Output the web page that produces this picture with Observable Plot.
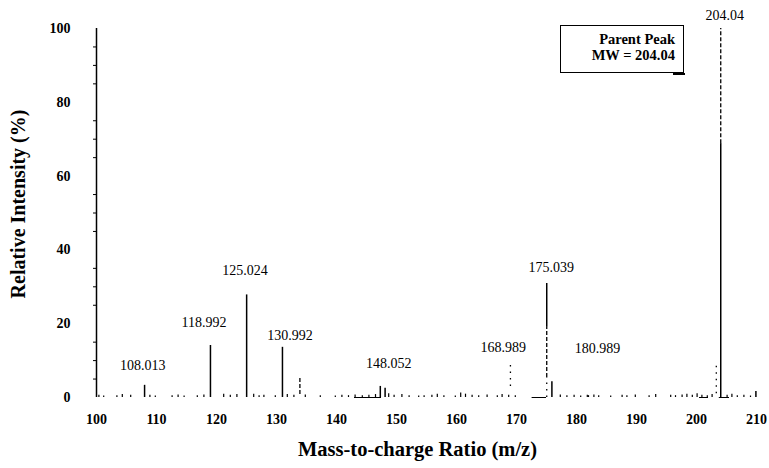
<!DOCTYPE html>
<html>
<head>
<meta charset="utf-8">
<script src="https://cdn.jsdelivr.net/npm/d3@7"></script>
<script src="https://cdn.jsdelivr.net/npm/@observablehq/plot@0.6"></script>
<style>
  html, body { margin: 0; padding: 0; background: #fff; }
  #wrap { position: relative; width: 769px; height: 468px; font-family: "Liberation Serif", "Times New Roman", serif; }
  #box { position: absolute; left: 560px; top: 25px; width: 124px; height: 48px; box-sizing: border-box;
         border: 1.5px solid #000; background: #fff; text-align: right; padding: 5px 8px 0 0;
         font-weight: bold; font-size: 14.5px; line-height: 16px; color: #000; }
  #box::after { content: ""; position: absolute; right: -2px; bottom: -3px; width: 12px; height: 2px; background: #000; }
  #ytitle { position: absolute; left: 18px; top: 204px; transform: translate(-50%, -50%) rotate(-90deg);
            white-space: nowrap; font-weight: bold; font-size: 20px; color: #000; line-height: 1; }
</style>
</head>
<body>
<div id="wrap"><div id="box">Parent Peak<br>MW = 204.04</div><div id="ytitle">Relative Intensity (%)</div></div>
<script>
// ---- data ----
const xTicks = [100, 110, 120, 130, 140, 150, 160, 170, 180, 190, 200, 210];
const yTicks = [0, 20, 40, 60, 80, 100];
const yMinorTicks = [5, 10, 15, 25, 30, 35, 45, 50, 55, 65, 70, 75, 85, 90, 95];

// solid peak segments (m/z, low, high intensity %)
const solidMz   = [108.013, 118.992, 125.024, 130.992, 147.3, 148.1, 175.039, 175.9, 204.04, 209.9];
const solidLow  = [0, 0, 0, 0, 0, 0, 19, 0, 0, 0];
const solidHigh = [3.3, 14.1, 27.8, 13.6, 3.0, 2.5, 30.9, 4.3, 68.8, 1.6];

// dashed peak segments
const dashMz   = [133.9, 175.039, 204.04];
const dashLow  = [0.8, 5.4, 68.8];
const dashHigh = [5.4, 19, 100];

// dotted peak segments
const dotMz   = [168.989, 175.039, 203.3];
const dotLow  = [3, 0, 1];
const dotHigh = [9, 5.4, 9];

// baseline noise (m/z, intensity %)
const noiseMz = [100.4, 101.2, 103.4, 104.3, 105.7, 108.9, 109.8, 112.6, 113.6, 114.6, 116.8, 117.9,
  121.2, 122.3, 123.4, 126.2, 127.1, 127.9, 129.8, 131.8, 132.9, 134.8, 137.3, 139.8, 140.9, 142.0,
  143.1, 144.3, 145.4, 146.5, 148.7, 149.6, 150.9, 152.1, 153.7, 154.6, 155.9, 156.8, 157.9, 159.8,
  160.7, 161.5, 162.6, 163.7, 165.1, 166.8, 167.6, 168.7, 169.8, 177.3, 178.4, 179.6, 180.7, 181.8,
  182.0, 182.9, 183.7, 185.7, 187.6, 188.4, 189.8, 192.1, 193.2, 195.7, 196.5, 197.6, 198.4, 199.3,
  200.1, 200.9, 201.8, 202.6, 205.1, 205.9, 206.8, 207.9, 209.0];
const noiseInt = [0.6, 0.4, 0.5, 0.8, 0.6, 0.6, 0.4, 0.5, 0.7, 0.4, 0.5, 0.7,
  0.9, 0.6, 0.8, 0.9, 0.5, 0.6, 0.5, 0.8, 0.6, 0.7, 0.5, 0.4, 0.6, 0.5,
  0.7, 0.5, 0.6, 0.8, 1.0, 0.6, 0.8, 0.5, 0.4, 0.5, 0.6, 0.9, 0.5, 0.4,
  1.2, 0.9, 0.6, 0.5, 0.7, 0.5, 0.8, 0.6, 0.5, 0.7, 0.5, 0.6, 0.4, 0.6,
  0.5, 0.7, 0.5, 0.4, 0.6, 0.5, 0.7, 0.5, 0.8, 0.6, 0.5, 0.7, 0.9, 0.6,
  1.0, 0.6, 0.5, 0.8, 0.6, 0.9, 0.5, 0.6, 0.4];

// dense baseline stretches (m/z from, to)
const baseFrom = [143.0, 172.6, 200.5, 203.8];
const baseTo   = [147.5, 175.0, 202.0, 205.5];

// peak annotations
const labelText = ["108.013", "118.992", "125.024", "130.992", "148.052", "168.989", "175.039", "180.989", "204.04"];
const labelMz   = [107.7, 117.9, 124.75, 132.25, 148.7, 167.8, 175.8, 183.5, 204.7];
const labelInt  = [8.7, 20.3, 34.4, 16.8, 9.1, 13.6, 35.3, 13.2, 103.5];

// ---- build ----
const seg = (mz, lo, hi) => mz.map((m, i) => ({mz: m, lo: lo[i], hi: hi[i]}));
const solid = seg(solidMz, solidLow, solidHigh);
const dashed = seg(dashMz, dashLow, dashHigh);
const dotted = seg(dotMz, dotLow, dotHigh);
const noise = noiseMz.map((m, i) => ({mz: m, v: noiseInt[i]}));
const base = baseFrom.map((f, i) => ({from: f, to: baseTo[i]}));
const labels = labelText.map((t, i) => ({t, mz: labelMz[i], v: labelInt[i]}));

const chart = Plot.plot({
  width: 769,
  height: 468,
  marginTop: 28,
  marginBottom: 71,
  marginLeft: 96,
  marginRight: 13,
  style: {fontFamily: "Liberation Serif, Times New Roman, serif", color: "#000", background: "#fff", overflow: "visible"},
  x: {domain: [100, 210]},
  y: {domain: [0, 100]},
  marks: [
    Plot.axisX({ticks: xTicks, tickSize: 0, tickPadding: 17, fontSize: 14, fontWeight: "bold", label: null}),
    Plot.axisY({ticks: yTicks, tickSize: 0, tickPadding: 26, fontSize: 14, fontWeight: "bold", label: null}),
    Plot.axisY({ticks: yMinorTicks, tickSize: 3, tickFormat: () => "", label: null}),
    Plot.ruleX([100], {y1: 0, y2: 100, stroke: "#000", strokeWidth: 1.5}),
    Plot.ruleY(base, {x1: "from", x2: "to", y: 0, stroke: "#000", strokeWidth: 1}),
    Plot.ruleX(noise, {x: "mz", y1: 0, y2: "v", stroke: "#000", strokeWidth: 1.2}),
    Plot.ruleX(solid, {x: "mz", y1: "lo", y2: "hi", stroke: "#000", strokeWidth: 1.5}),
    Plot.ruleX(dashed, {x: "mz", y1: "lo", y2: "hi", stroke: "#000", strokeWidth: 1.3, strokeDasharray: "4,2"}),
    Plot.ruleX(dotted, {x: "mz", y1: "lo", y2: "hi", stroke: "#000", strokeWidth: 1.3, strokeDasharray: "1.5,5"}),
    Plot.text(labels, {x: "mz", y: "v", text: "t", fontSize: 14, fill: "#000"}),
    Plot.text(["Mass-to-charge Ratio (m/z)"], {frameAnchor: "bottom", dy: 58, dx: -9, fontSize: 20.5, fontWeight: "bold", fill: "#000"})
  ]
});
document.getElementById("wrap").prepend(chart);
</script>
</body>
</html>
